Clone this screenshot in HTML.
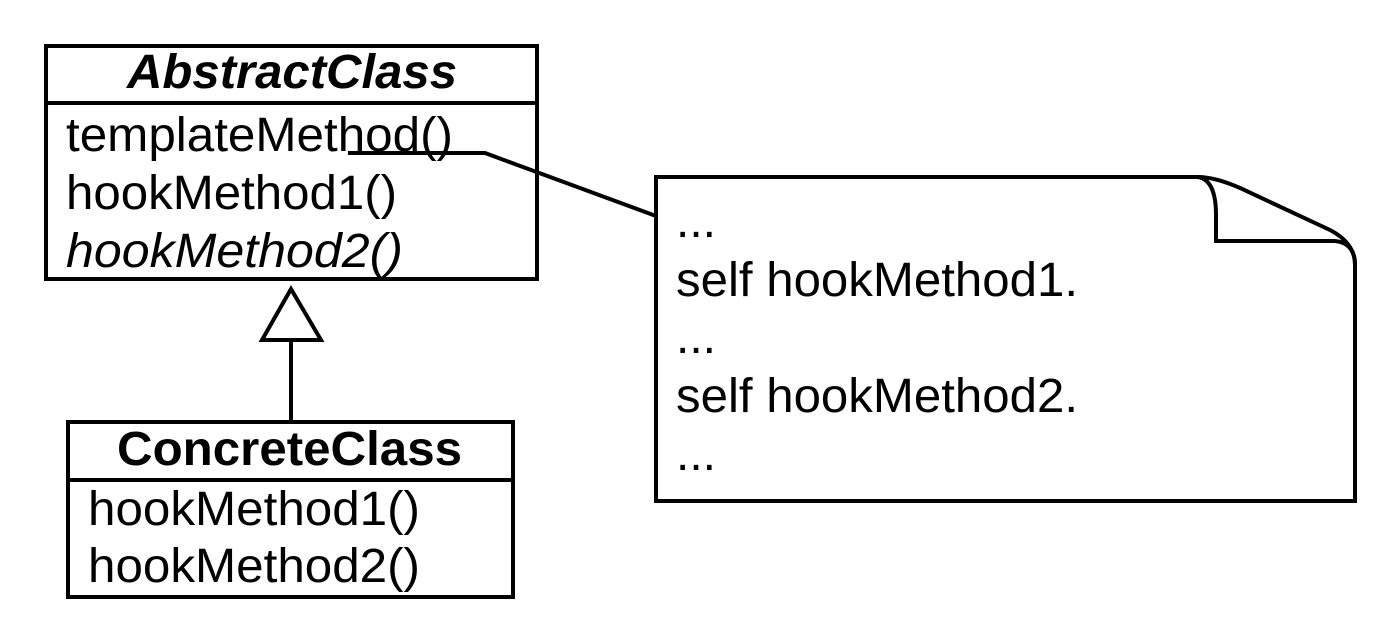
<!DOCTYPE html>
<html><head><meta charset="utf-8"><style>
html,body{margin:0;padding:0;background:#fff;}
svg{display:block;}
text{font-family:"Liberation Sans",Arial,sans-serif;font-size:48px;fill:#000;}
</style></head><body>
<svg width="1399" height="641" viewBox="0 0 1399 641" xmlns="http://www.w3.org/2000/svg">
<g fill="none" stroke="#000" stroke-width="4">
<rect x="46" y="46" width="491" height="233"/>
<line x1="46" y1="103" x2="537" y2="103"/>
<rect x="68" y="422" width="445" height="175"/>
<line x1="68" y1="480" x2="513" y2="480"/>
<polygon points="291,289 262,340 321,340" stroke-linejoin="miter"/>
<line x1="291" y1="340" x2="291" y2="422"/>
<polyline points="348,153 485,153 656,216"/>
<path d="M656,177 L1198,177 Q1215,177 1240,188 L1330,230 Q1355,243 1355,265 L1355,501 L656,501 Z"/>
<path d="M1198,177 Q1216,180 1216,215 L1216,241 L1335,241 Q1355,243 1355,265"/>
</g>
<text x="127" y="88" font-weight="bold" font-style="italic" textLength="330" lengthAdjust="spacingAndGlyphs">AbstractClass</text>
<text x="66" y="151" textLength="387" lengthAdjust="spacingAndGlyphs">templateMethod()</text>
<text x="66" y="209" textLength="331" lengthAdjust="spacingAndGlyphs">hookMethod1()</text>
<text x="66" y="267" font-style="italic" textLength="337" lengthAdjust="spacingAndGlyphs">hookMethod2()</text>
<text x="117" y="465" font-weight="bold" textLength="345" lengthAdjust="spacingAndGlyphs">ConcreteClass</text>
<text x="88" y="525" textLength="332" lengthAdjust="spacingAndGlyphs">hookMethod1()</text>
<text x="88" y="582" textLength="332" lengthAdjust="spacingAndGlyphs">hookMethod2()</text>
<text x="676" y="237">...</text>
<text x="676" y="296" textLength="402" lengthAdjust="spacingAndGlyphs">self hookMethod1.</text>
<text x="676" y="353">...</text>
<text x="676" y="412" textLength="402" lengthAdjust="spacingAndGlyphs">self hookMethod2.</text>
<text x="676" y="470">...</text>
</svg>
</body></html>
